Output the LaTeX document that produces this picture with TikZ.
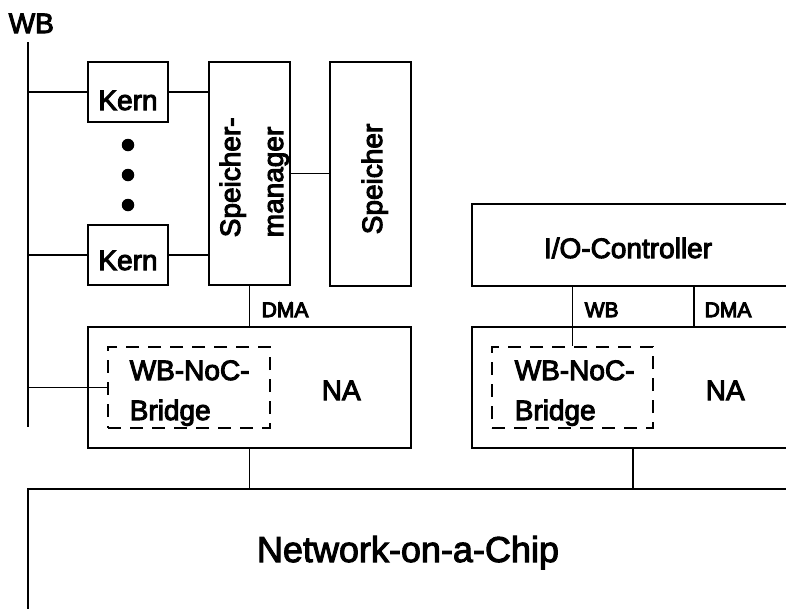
\documentclass[tikz,border=0pt]{standalone}
\usepackage{fontspec}
\setmainfont{Liberation Sans}
% fill and stroke the glyphs so the lettering prints a little heavier
\newcommand{\heavytext}{\special{pdf:literal direct 2 Tr 1.0 w}}
\begin{document}
\begin{tikzpicture}[x=1pt, y=-1pt, line width=1.5pt,
  box/.style={draw, rectangle, inner sep=0pt},
  dashbox/.style={draw, rectangle, inner sep=0pt, dash pattern=on 13pt off 9pt},
  lbl/.style={inner sep=0pt, font=\fontsize{28}{34}\selectfont\heavytext},
  small/.style={inner sep=0pt, font=\fontsize{21}{25}\selectfont\heavytext},
  big/.style={inner sep=0pt, font=\fontsize{36}{42}\selectfont\heavytext},
  dotnode/.style={circle, fill, inner sep=0pt, minimum size=12.5pt}]
% page frame, also cuts the open right and lower edges
\clip (0,0) rectangle (786,608);

% processor cluster
\node[box, minimum width=80, minimum height=60] (kern1) at (128,92) {};
\node[box, minimum width=80, minimum height=60] (kern2) at (128,255) {};
\node[box, minimum width=81, minimum height=223] (sm) at (249.5,173.5) {};
\node[box, minimum width=81, minimum height=224] (sp) at (370.5,174) {};
\node[dotnode] (dot1) at (128,145) {};
\node[dotnode] (dot2) at (128,175) {};
\node[dotnode] (dot3) at (128,205) {};

% network adapters
\node[box, minimum width=323, minimum height=121] (na1) at (249.5,387.5) {};
\node[dashbox, minimum width=162, minimum height=81] (br1) at (189,387.5) {};
\node[box, minimum width=328, minimum height=82] (io) at (636,245) {};
\node[box, minimum width=328, minimum height=121] (na2) at (636,387.5) {};
\node[dashbox, minimum width=161, minimum height=81] (br2) at (572.5,387.5) {};

% network
\node[box, minimum width=772, minimum height=131] (noc) at (414,554.5) {};

% bus and taps
\coordinate (wbtop) at (28,42);
\coordinate (wbbot) at (28,427);
\coordinate (dmatap) at (694,0);
\coordinate (noctap) at (633,0);

\draw (wbtop) -- (wbbot);
\draw (kern1.west -| wbtop) -- (kern1.west);
\draw (kern2.west -| wbtop) -- (kern2.west);
\draw (kern1.east) -- (kern1.east -| sm.west);
\draw (kern2.east) -- (kern2.east -| sm.west);
\draw (sm.east) -- (sm.east -| sp.west);
\draw (sm.south) -- (sm.south |- na1.north);
\draw (br1.west -| wbtop) -- (br1.west);
\draw (na1.south) -- (na1.south |- noc.north);
\draw (br2.north |- io.south) -- (br2.north);
\draw (dmatap |- io.south) -- (dmatap |- na2.north);
\draw (noctap |- na2.south) -- (noctap |- noc.north);

% texts
\node[lbl, anchor=base west] (wbl) at (8,33) {WB};
\node[lbl, anchor=base] (k1t) at (128,110) {Kern};
\node[lbl, anchor=base] (k2t) at (128,270) {Kern};
\node[lbl, anchor=base west, rotate=90] (smt1) at (240,238) {Speicher-};
\node[lbl, anchor=base west, rotate=90] (smt2) at (283,238) {manager};
\node[lbl, anchor=base west, rotate=90] (spt) at (382,235) {Speicher};
\node[small, anchor=base west] (dma1) at (261,317) {DMA};
\node[lbl, anchor=base west] (b1a) at (129,380) {WB-NoC-};
\node[lbl, anchor=base west] (b1b) at (129,420) {Bridge};
\node[lbl, anchor=base west] (na1t) at (321,400) {NA};
\node[lbl, anchor=base] (iot) at (628,258) {I/O-Controller};
\node[small, anchor=base west] (wb2) at (584,317) {WB};
\node[small, anchor=base west] (dma2) at (704,317) {DMA};
\node[lbl, anchor=base west] (b2a) at (514,380) {WB-NoC-};
\node[lbl, anchor=base west] (b2b) at (514,420) {Bridge};
\node[lbl, anchor=base west] (na2t) at (705,400) {NA};
\node[big, anchor=base] (noct) at (408,562) {Network-on-a-Chip};
\end{tikzpicture}
\end{document}
